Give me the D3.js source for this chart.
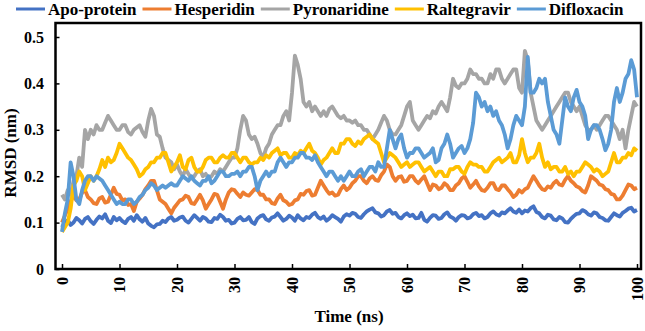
<!DOCTYPE html>
<html><head><meta charset="utf-8">
<script src="https://cdn.jsdelivr.net/npm/d3@7"></script>
<style>body{margin:0;background:#fff}svg{display:block}</style>
</head><body><svg id="c" width="645" height="331"></svg>
<script>
const seriesNames = ["Apo-protein","Hesperidin","Pyronaridine","Raltegravir","Difloxacin"];
const seriesColors = ["#4472C4","#ED7D31","#A5A5A5","#FFC000","#5B9BD5"];
const xTicks = [0,10,20,30,40,50,60,70,80,90,100];
const yTicks = [0,0.1,0.2,0.3,0.4,0.5];
const timeNs = d3.range(0, 100.25, 0.5);

const apoProtein = [
0.09,0.10,0.105,0.095,0.10,0.11,0.105,0.098,0.108,0.112,0.103,0.097,0.106,0.113,0.109,0.118,0.104,0.099,0.112,0.105,
0.11,0.103,0.099,0.108,0.112,0.104,0.116,0.107,0.102,0.11,0.098,0.093,0.09,0.096,0.097,0.104,0.101,0.109,0.112,0.104,
0.106,0.111,0.113,0.104,0.1,0.108,0.116,0.11,0.104,0.112,0.109,0.102,0.101,0.11,0.108,0.117,0.112,0.104,0.106,0.098,
0.1,0.108,0.112,0.105,0.106,0.112,0.101,0.097,0.109,0.114,0.116,0.107,0.104,0.111,0.113,0.12,0.112,0.104,0.108,0.115,
0.111,0.104,0.116,0.109,0.105,0.112,0.11,0.117,0.121,0.112,0.108,0.113,0.104,0.109,0.116,0.112,0.108,0.102,0.113,0.118,
0.115,0.121,0.119,0.112,0.11,0.118,0.124,0.128,0.131,0.122,0.12,0.113,0.116,0.124,0.127,0.119,0.121,0.112,0.109,0.116,
0.12,0.114,0.117,0.109,0.11,0.121,0.106,0.102,0.11,0.116,0.115,0.108,0.11,0.118,0.122,0.113,0.11,0.104,0.112,0.116,
0.115,0.109,0.111,0.118,0.121,0.114,0.116,0.109,0.112,0.12,0.124,0.118,0.115,0.122,0.12,0.126,0.131,0.124,0.121,0.128,
0.12,0.126,0.124,0.131,0.135,0.123,0.12,0.112,0.109,0.117,0.115,0.107,0.105,0.112,0.109,0.101,0.1,0.108,0.114,0.119,
0.12,0.127,0.124,0.118,0.115,0.122,0.12,0.112,0.11,0.105,0.104,0.112,0.12,0.116,0.113,0.121,0.125,0.13,0.132,0.124,
0.127];

const hesperidin = [
0.10,0.115,0.13,0.145,0.16,0.148,0.15,0.165,0.17,0.155,0.15,0.142,0.14,0.152,0.155,0.143,0.145,0.16,0.175,0.162,
0.16,0.148,0.15,0.138,0.14,0.125,0.145,0.152,0.16,0.172,0.18,0.19,0.19,0.17,0.15,0.145,0.14,0.13,0.12,0.132,
0.14,0.148,0.15,0.158,0.155,0.142,0.14,0.15,0.16,0.148,0.13,0.14,0.15,0.162,0.16,0.145,0.13,0.15,0.165,0.172,
0.17,0.162,0.155,0.165,0.16,0.158,0.165,0.172,0.17,0.16,0.16,0.15,0.15,0.142,0.14,0.152,0.16,0.148,0.145,0.138,
0.14,0.148,0.15,0.162,0.16,0.168,0.17,0.158,0.16,0.175,0.19,0.18,0.17,0.162,0.165,0.158,0.16,0.172,0.18,0.17,
0.175,0.185,0.19,0.2,0.2,0.19,0.185,0.195,0.2,0.192,0.19,0.202,0.21,0.225,0.22,0.2,0.19,0.198,0.2,0.188,
0.19,0.2,0.2,0.19,0.185,0.193,0.2,0.185,0.17,0.182,0.18,0.172,0.175,0.185,0.18,0.17,0.17,0.18,0.185,0.195,
0.2,0.188,0.175,0.182,0.19,0.178,0.17,0.168,0.175,0.185,0.185,0.172,0.17,0.18,0.18,0.172,0.165,0.155,0.16,0.17,
0.165,0.172,0.175,0.188,0.2,0.19,0.18,0.172,0.17,0.178,0.175,0.185,0.19,0.182,0.18,0.192,0.2,0.19,0.185,0.178,
0.175,0.168,0.165,0.18,0.2,0.195,0.19,0.182,0.18,0.172,0.17,0.162,0.16,0.15,0.15,0.158,0.17,0.182,0.18,0.172,
0.175];

const pyronaridine = [
0.16,0.15,0.17,0.16,0.19,0.2,0.24,0.22,0.3,0.28,0.3,0.29,0.31,0.3,0.3,0.315,0.33,0.32,0.31,0.3,
0.3,0.31,0.31,0.295,0.29,0.3,0.305,0.31,0.295,0.285,0.32,0.345,0.33,0.29,0.285,0.26,0.24,0.235,0.23,0.215,
0.225,0.21,0.2,0.215,0.205,0.195,0.2,0.21,0.215,0.2,0.205,0.195,0.2,0.21,0.205,0.215,0.21,0.22,0.23,0.24,
0.24,0.26,0.3,0.33,0.32,0.29,0.28,0.285,0.27,0.25,0.24,0.26,0.27,0.29,0.3,0.31,0.31,0.33,0.34,0.32,
0.38,0.46,0.44,0.41,0.36,0.35,0.36,0.34,0.35,0.34,0.33,0.34,0.33,0.345,0.35,0.34,0.33,0.325,0.33,0.32,
0.32,0.315,0.32,0.31,0.31,0.3,0.3,0.29,0.28,0.29,0.3,0.315,0.33,0.32,0.3,0.29,0.29,0.3,0.31,0.33,
0.35,0.36,0.32,0.31,0.3,0.31,0.32,0.33,0.325,0.34,0.335,0.35,0.36,0.35,0.34,0.37,0.41,0.395,0.39,0.4,
0.4,0.41,0.43,0.42,0.42,0.41,0.41,0.4,0.4,0.42,0.41,0.43,0.43,0.41,0.4,0.41,0.42,0.43,0.43,0.39,
0.38,0.47,0.45,0.38,0.35,0.32,0.31,0.3,0.31,0.32,0.33,0.34,0.35,0.36,0.37,0.38,0.38,0.36,0.35,0.34,
0.35,0.33,0.31,0.3,0.3,0.31,0.3,0.31,0.32,0.33,0.33,0.32,0.31,0.3,0.28,0.3,0.26,0.3,0.33,0.36,
0.35];

const raltegravir = [
0.08,0.09,0.1,0.13,0.18,0.19,0.21,0.2,0.17,0.185,0.2,0.19,0.2,0.215,0.235,0.22,0.24,0.23,0.235,0.25,
0.27,0.26,0.25,0.24,0.235,0.225,0.215,0.2,0.205,0.215,0.22,0.23,0.23,0.24,0.24,0.25,0.25,0.23,0.21,0.22,
0.23,0.245,0.22,0.215,0.235,0.24,0.22,0.21,0.21,0.22,0.235,0.24,0.24,0.23,0.23,0.24,0.245,0.24,0.24,0.25,
0.25,0.24,0.23,0.24,0.24,0.23,0.225,0.23,0.23,0.24,0.235,0.245,0.24,0.25,0.255,0.26,0.245,0.25,0.25,0.24,
0.24,0.25,0.245,0.255,0.25,0.26,0.27,0.255,0.25,0.24,0.225,0.235,0.24,0.25,0.26,0.25,0.25,0.27,0.27,0.28,
0.28,0.27,0.265,0.275,0.27,0.28,0.285,0.29,0.28,0.275,0.27,0.25,0.23,0.24,0.25,0.245,0.24,0.23,0.22,0.225,
0.23,0.22,0.225,0.23,0.23,0.22,0.21,0.215,0.22,0.21,0.2,0.21,0.21,0.2,0.2,0.215,0.215,0.22,0.22,0.21,
0.205,0.22,0.23,0.225,0.225,0.22,0.22,0.21,0.21,0.22,0.23,0.235,0.24,0.23,0.235,0.24,0.25,0.23,0.23,0.245,
0.28,0.25,0.23,0.24,0.24,0.25,0.27,0.24,0.22,0.23,0.215,0.22,0.22,0.21,0.21,0.22,0.205,0.21,0.2,0.21,
0.21,0.22,0.23,0.225,0.22,0.21,0.215,0.21,0.2,0.205,0.21,0.23,0.25,0.23,0.23,0.24,0.24,0.25,0.245,0.26,
0.255];

const difloxacin = [
0.08,0.12,0.15,0.23,0.2,0.15,0.14,0.17,0.19,0.2,0.2,0.19,0.2,0.195,0.19,0.18,0.17,0.16,0.15,0.14,
0.145,0.14,0.14,0.15,0.15,0.14,0.145,0.155,0.16,0.17,0.175,0.185,0.18,0.17,0.175,0.18,0.175,0.18,0.185,0.18,
0.18,0.19,0.2,0.195,0.19,0.2,0.19,0.185,0.18,0.19,0.19,0.2,0.185,0.19,0.2,0.21,0.21,0.2,0.2,0.205,
0.205,0.21,0.2,0.21,0.21,0.22,0.22,0.2,0.17,0.19,0.2,0.21,0.2,0.21,0.21,0.23,0.24,0.23,0.22,0.23,
0.23,0.24,0.24,0.25,0.25,0.24,0.24,0.235,0.245,0.23,0.22,0.21,0.2,0.21,0.21,0.2,0.19,0.2,0.19,0.2,
0.21,0.2,0.2,0.21,0.215,0.2,0.21,0.22,0.22,0.21,0.23,0.22,0.22,0.26,0.3,0.28,0.26,0.28,0.29,0.26,
0.24,0.25,0.25,0.26,0.26,0.25,0.24,0.245,0.25,0.26,0.23,0.235,0.26,0.27,0.29,0.27,0.24,0.25,0.26,0.265,
0.25,0.26,0.28,0.315,0.38,0.37,0.35,0.36,0.34,0.35,0.33,0.34,0.32,0.31,0.29,0.26,0.28,0.31,0.33,0.32,
0.31,0.35,0.457,0.38,0.38,0.39,0.41,0.40,0.41,0.36,0.33,0.30,0.29,0.27,0.32,0.37,0.35,0.34,0.37,0.386,
0.36,0.35,0.33,0.28,0.3,0.31,0.31,0.3,0.28,0.256,0.27,0.3,0.36,0.39,0.36,0.38,0.41,0.42,0.45,0.43,
0.37];

const seriesValues = [apoProtein, hesperidin, pyronaridine, raltegravir, difloxacin];

const svg = d3.select("#c");
const FONT = "'Liberation Serif','Times New Roman',serif";
const frame = {left: 55.5, top: 23, right: 641, bottom: 269};
const x = d3.scaleLinear().domain([0, 100]).range([62, 637]);
const y = d3.scaleLinear().domain([0, 0.5]).range([269, 37]);

const plot = svg.append("g");
const line = d3.line().x((d, i) => x(timeNs[i])).y(d => y(d));
seriesValues.forEach((vals, k) => {
  plot.append("path").datum(vals)
    .attr("d", line)
    .attr("fill", "none")
    .attr("stroke", seriesColors[k])
    .attr("stroke-width", 3.8)
    .attr("stroke-linejoin", "round");
});

// y axis (ticks inside)
const yAxis = svg.append("g").attr("transform", `translate(${frame.left},0)`)
  .call(d3.axisRight(y).tickValues(yTicks).tickSize(4).tickFormat(""));
yAxis.select(".domain").remove();
yAxis.selectAll("line").attr("stroke", "#000").attr("stroke-width", 1.5);
svg.append("g").selectAll("text").data(yTicks).join("text")
  .attr("x", 44).attr("y", d => y(d)).attr("dy", "0.35em")
  .attr("text-anchor", "end")
  .style("font-family", FONT).style("font-weight", "bold").style("font-size", "16px")
  .text(d => d === 0 ? "0" : d3.format(".1f")(d));

// x axis (ticks inside)
const xAxis = svg.append("g").attr("transform", `translate(0,${frame.bottom})`)
  .call(d3.axisTop(x).tickValues(xTicks).tickSize(5).tickFormat(""));
xAxis.select(".domain").remove();
xAxis.selectAll("line").attr("stroke", "#000").attr("stroke-width", 1.5);
svg.append("g").selectAll("text").data(xTicks).join("text")
  .attr("transform", d => `translate(${x(d)},277) rotate(-90)`)
  .attr("dy", "0.35em")
  .attr("text-anchor", "end")
  .style("font-family", FONT).style("font-weight", "bold").style("font-size", "16px")
  .text(d => d);

// frame
svg.append("rect")
  .attr("x", frame.left).attr("y", frame.top)
  .attr("width", frame.right - frame.left).attr("height", frame.bottom - frame.top)
  .attr("fill", "none").attr("stroke", "#000").attr("stroke-width", 2.5);

// axis titles
svg.append("text").attr("x", 349).attr("y", 322).attr("text-anchor", "middle")
  .style("font-family", FONT).style("font-weight", "bold").style("font-size", "17px")
  .text("Time (ns)");
svg.append("text").attr("transform", "translate(16,153) rotate(-90)").attr("text-anchor", "middle")
  .style("font-family", FONT).style("font-weight", "bold").style("font-size", "17px")
  .text("RMSD (nm)");

// legend
const legend = svg.append("g");
let cx = 16;
seriesNames.forEach((name, k) => {
  legend.append("line").attr("x1", cx).attr("x2", cx + 29).attr("y1", 9).attr("y2", 9)
    .attr("stroke", seriesColors[k]).attr("stroke-width", 3);
  const t = legend.append("text").attr("x", cx + 32).attr("y", 15)
    .style("font-family", FONT).style("font-weight", "bold").style("font-size", "17px")
    .text(name);
  cx += 32 + t.node().getComputedTextLength() + 6;
});
</script></body></html>
